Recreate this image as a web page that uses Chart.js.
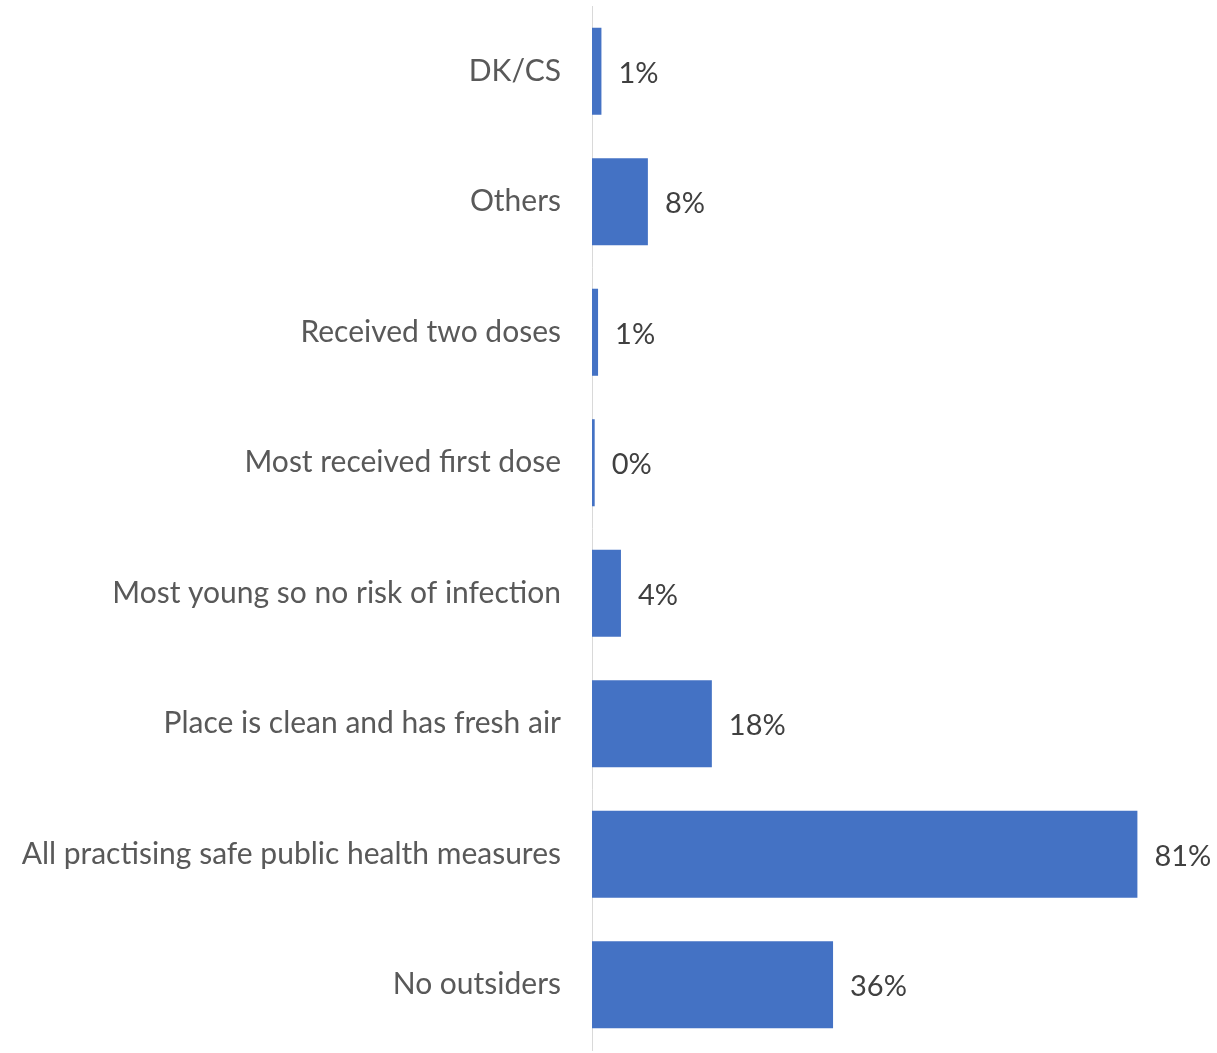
<!DOCTYPE html>
<html>
<head>
<meta charset="utf-8">
<script src="https://cdn.jsdelivr.net/npm/chart.js@4"></script>
<style>
  html, body { margin: 0; padding: 0; background: #ffffff; }
  #wrap { width: 1217px; height: 1053px; }
</style>
</head>
<body>
<div id="wrap"><canvas id="c" width="1217" height="1053"></canvas></div>
<script>
// Reasons given, top to bottom
const categories = [
  'DK/CS',
  'Others',
  'Received two doses',
  'Most received first dose',
  'Most young so no risk of infection',
  'Place is clean and has fresh air',
  'All practising safe public health measures',
  'No outsiders'
];
// Share of respondents (%)
const shares = [1.4, 8.3, 0.9, 0.4, 4.3, 17.8, 81, 35.8];

const FONT = 'Lato, "Open Sans", sans-serif';
const AXIS_X = 592;

// Percentage labels at the end of each bar
const valueLabels = {
  id: 'valueLabels',
  afterDatasetsDraw(chart) {
    const ctx = chart.ctx;
    const meta = chart.getDatasetMeta(0);
    ctx.save();
    ctx.font = '29px ' + FONT;
    ctx.fillStyle = '#404040';
    ctx.textAlign = 'left';
    ctx.textBaseline = 'middle';
    meta.data.forEach((bar, i) => {
      const v = chart.data.datasets[0].data[i];
      ctx.fillText(Math.round(v) + '%', bar.x + 17, bar.y + 2);
    });
    ctx.restore();
  }
};

new Chart(document.getElementById('c'), {
  type: 'bar',
  data: {
    labels: categories,
    datasets: [{
      data: shares,
      backgroundColor: '#4472C4',
      borderWidth: 0,
      barPercentage: 0.667,
      categoryPercentage: 1.0
    }]
  },
  options: {
    indexAxis: 'y',
    responsive: false,
    animation: false,
    layout: { padding: { left: 0, right: 19, top: 6, bottom: 3 } },
    plugins: {
      legend: { display: false },
      tooltip: { enabled: false }
    },
    scales: {
      x: {
        display: false,
        min: 0,
        max: 90
      },
      y: {
        afterFit(scale) {
          scale.width = AXIS_X;
          scale.paddingTop = 0;
          scale.paddingBottom = 0;
        },
        grid: { display: false, drawTicks: false },
        border: { display: true, color: '#d9d9d9', width: 1 },
        ticks: {
          padding: 31,
          color: '#595959',
          font: { family: FONT, size: 30 }
        }
      }
    }
  },
  plugins: [valueLabels]
});
</script>
</body>
</html>
